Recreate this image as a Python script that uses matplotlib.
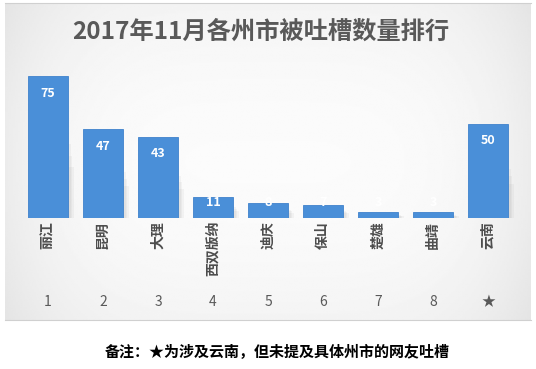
import numpy as np
import matplotlib
matplotlib.use("Agg")
import matplotlib.pyplot as plt
from matplotlib.lines import Line2D

plt.rcParams['font.family'] = ['Noto Sans CJK SC', 'DejaVu Sans']

# data
cities = ["丽江", "昆明", "大理", "西双版纳", "迪庆", "保山", "楚雄", "曲靖", "云南"]
counts = [75, 47, 43, 11, 8, 7, 3, 3, 50]
ranks = ["1", "2", "3", "4", "5", "6", "7", "8", "★"]

W, H = 536, 369
fig = plt.figure(figsize=(W / 100, H / 100), dpi=100)
fig.patch.set_facecolor("white")

# soft grey background of the chart card
bg = fig.add_axes([5 / W, 1 - 320 / H, 526 / W, 316 / H])
xx = np.linspace(-1, 1, 300)
yy = np.linspace(-1, 1, 200)
X, Y = np.meshgrid(xx, yy)
grad = 0.985 - 0.06 * (X ** 4) - 0.03 * (Y ** 2)
bg.imshow(grad, cmap="gray", vmin=0, vmax=1, aspect="auto", extent=[0, 1, 0, 1])
bg.axis("off")

# main axes: baseline at y=218px, bars centred 48..488px
ax = fig.add_axes([20.5 / W, 1 - 218 / H, 495 / W, 158 / H])
ax.patch.set_alpha(0)
x = np.arange(len(cities))

# blurred shadow built from a few faint layers
for k in range(4):
    ax.bar(x + 0.03 + 0.025 * k, [c * (0.6 - 0.08 * k) for c in counts], width=0.72,
           color="#808080", alpha=0.07, linewidth=0, zorder=1)
ax.bar(x, counts, width=0.72, color="#4a8fd8", edgecolor="#3f82cc", linewidth=0.6, zorder=2)

for i, c in enumerate(counts):
    ax.text(i, max(c - 9, 8), str(c), ha="center", va="center", color="white",
            fontsize=9, fontweight="bold", zorder=3)

ax.set_xlim(-0.5, 8.5)
ax.set_ylim(0, 83.6)
ax.set_yticks([])
ax.set_xticks(x)
ax.set_xticklabels(cities, rotation=90, fontsize=10, color="#4d4d4d", fontweight="bold")
ax.tick_params(axis="x", length=0, pad=2)
for s in ax.spines.values():
    s.set_visible(False)

tr = ax.get_xaxis_transform()
for i, r in enumerate(ranks):
    ax.text(i, -(302 - 218) / 158, r, transform=tr, ha="center", va="center",
            fontsize=10, color="#595959")

fig.text(261 / W, 1 - 32 / H, "2017年11月各州市被吐槽数量排行", ha="center", va="center",
         fontsize=17.5, fontweight="bold", color="#595959")

fig.add_artist(Line2D([5 / W, 531 / W], [1 - 3 / H, 1 - 3 / H], color="#d0d0d0", lw=0.8))
fig.add_artist(Line2D([5 / W, 531 / W], [1 - 320 / H, 1 - 320 / H], color="#d0d0d0", lw=0.8))

fig.text(277 / W, 1 - 352 / H, "备注：★为涉及云南，但未提及具体州市的网友吐槽", ha="center", va="center",
         fontsize=10.8, fontweight="bold", color="black")

fig.savefig("out.png", dpi=100)
